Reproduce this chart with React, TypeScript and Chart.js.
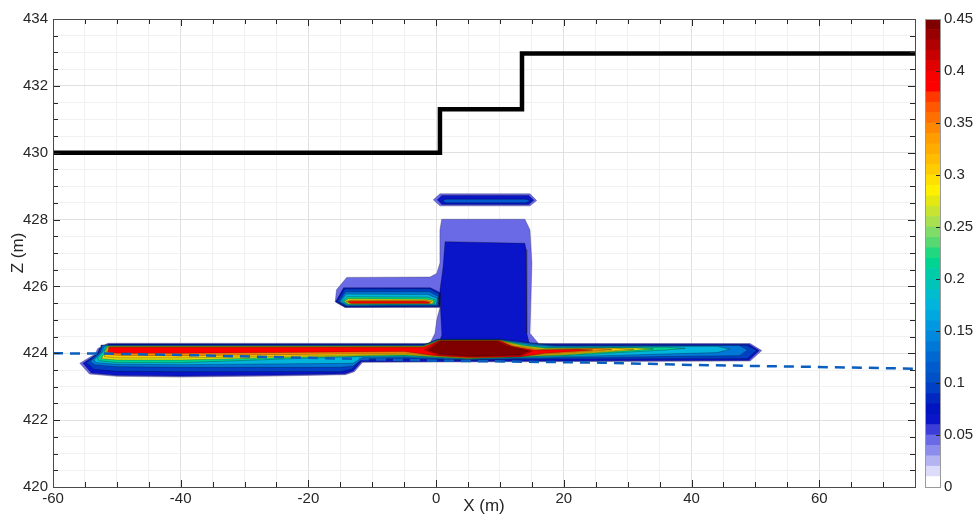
import React, { useEffect, useRef } from "react";
import { Chart, registerables } from "chart.js";

Chart.register(...registerables);

const FONT = "'Liberation Sans', Arial, Helvetica, sans-serif";
const TEXT = "#262626";

// ---- axes ----
const xMin = -60;
const xMax = 75;
const zMin = 420;
const zMax = 434;
const xTickLabels = [-60, -40, -20, 0, 20, 40, 60];
const zTickLabels = [420, 422, 424, 426, 428, 430, 432, 434];

// ---- ground surface (black step line) ----
const groundX = [-60, 0.6, 0.6, 13.45, 13.45, 75];
const groundZ = [430, 430, 431.3, 431.3, 432.97, 432.97];

// ---- water table (dashed blue) ----
const waterX = [-60, -52, -40, -10, 0, 25.7, 40, 57, 75];
const waterZ = [424.0, 423.99, 423.95, 423.82, 423.78, 423.72, 423.65, 423.6, 423.54];

// ---- colour scale (colorbar bands, 0.01 wide, 0 .. 0.45) ----
const levelStep = 0.01;
const colorbarColors = [
  "#ffffff", "#dcdcfa", "#b4b4f2", "#8c8cec", "#6a6ae6", "#3c3cd8", "#0a14c8", "#0014c0",
  "#0028c0", "#0040c4", "#0050c8", "#005ccc", "#0068d0", "#0078d8", "#0088dc", "#0098e0",
  "#00a8e0", "#00b4dc", "#00bccc", "#00c4b8", "#00cca8", "#00d490", "#20d880", "#58d870",
  "#80dc68", "#a8e050", "#c8e430", "#e4e810", "#fff000", "#ffe000", "#ffcc00", "#ffbc00",
  "#ffac00", "#ff9c00", "#ff8800", "#ff7000", "#ff5800", "#ff3800", "#ff0000", "#f80000",
  "#e00000", "#c80000", "#b00000", "#980000", "#800000",
];
const colorbarTickLabels = ["0", "0.05", "0.1", "0.15", "0.2", "0.25", "0.3", "0.35", "0.4", "0.45"];

// ---- contour polygons [x, z] ----
const columnHalo = [
  [-0.96, 424.3], [-0.17, 424.6], [0.1, 425.0], [0.6, 425.37], [-14.3, 425.37], [-15.8, 425.54],
  [-15.6, 425.9], [-14.0, 426.27], [-0.96, 426.28], [0.1, 426.39], [0.6, 426.7], [0.6, 427.69],
  [0.88, 428.01], [13.9, 428.01], [14.7, 427.69], [15.0, 426.7], [14.7, 424.6], [16.0, 424.3],
];
const columnCore = [
  [0.4, 424.3], [0.9, 424.55], [0.7, 425.3], [0.6, 425.9], [0.9, 426.3], [1.1, 426.6],
  [1.4, 427.34], [13.9, 427.29], [14.1, 427.1], [14.2, 424.6], [14.6, 424.3],
];
const topLensOuter = [[-0.44, 428.59], [0.6, 428.77], [14.7, 428.77], [15.75, 428.57], [14.7, 428.41], [0.6, 428.41]];
const topLensCore = [[0.2, 428.59], [0.9, 428.72], [14.5, 428.72], [15.3, 428.58], [14.5, 428.45], [0.9, 428.45]];
const topLensStreak = [[1.0, 428.56], [1.5, 428.61], [14.0, 428.61], [14.8, 428.56], [14.0, 428.5], [1.5, 428.5]];

const armB = [[-15.75, 425.54], [-14.5, 425.96], [-0.9, 425.96], [0.6, 425.82], [0.6, 425.39], [-14.2, 425.38]];
const armC = [[-15.5, 425.54], [-14.3, 425.93], [-1.0, 425.93], [0.5, 425.78], [0.5, 425.41], [-14.1, 425.4]];
const armD = [[-15.2, 425.54], [-14.2, 425.84], [-1.1, 425.84], [0.4, 425.7], [0.3, 425.43], [-14.0, 425.42]];
const armE = [[-15.0, 425.55], [-14.1, 425.77], [-1.3, 425.76], [0.2, 425.64], [0.0, 425.45], [-13.9, 425.44]];
const armF = [[-14.7, 425.56], [-13.9, 425.69], [-1.4, 425.68], [-0.1, 425.6], [-0.3, 425.47], [-13.8, 425.46]];
const armG = [[-14.4, 425.56], [-13.7, 425.63], [-1.5, 425.62], [-0.4, 425.57], [-0.6, 425.48], [-13.7, 425.47]];
const armI = [[-14.1, 425.555], [-13.5, 425.59], [-1.6, 425.585], [-0.7, 425.55], [-0.9, 425.49], [-13.5, 425.485]];
const armJ = [[-13.8, 425.54], [-13.3, 425.56], [-1.8, 425.555], [-1.0, 425.53], [-1.2, 425.5], [-13.3, 425.495]];

const lensA = [
  [-51.4, 424.3], [49.2, 424.29], [51.0, 424.08], [49.2, 423.77], [-11.5, 423.73], [-12.8, 423.45],
  [-14.2, 423.36], [-25, 423.32], [-40, 423.29], [-50, 423.31], [-54.3, 423.38], [-55.8, 423.7],
  [-53.4, 423.98], [-53.0, 424.14],
];
const lensB = [
  [-51.2, 424.28], [49.0, 424.27], [50.6, 424.08], [49.0, 423.79], [-11.7, 423.75], [-13.0, 423.47],
  [-14.3, 423.39], [-25, 423.35], [-40, 423.32], [-50, 423.34], [-54.0, 423.41], [-55.3, 423.7],
  [-53.1, 423.98], [-52.7, 424.14],
];
const lensC = [
  [-52.5, 424.25], [-2.0, 424.25], [0.2, 424.42], [10.0, 424.42], [16.5, 424.28], [19, 424.24],
  [48.7, 424.24], [50.2, 424.08], [48.7, 423.84], [20, 423.83], [5, 423.8], [-5, 423.83],
  [-11.8, 423.8], [-13.2, 423.52], [-15, 423.45], [-40, 423.45], [-50, 423.46], [-53.6, 423.52],
  [-54.8, 423.72], [-52.9, 424.0], [-52.6, 424.15],
];
const lensD = [
  [-52.2, 424.24], [-2.0, 424.24], [0.3, 424.41], [10.0, 424.41], [15.8, 424.27], [18.5, 424.22],
  [47.5, 424.23], [48.8, 424.1], [47.5, 423.93], [20, 423.87], [5, 423.815], [-5, 423.87],
  [-11.5, 423.84], [-13, 423.62], [-15, 423.58], [-40, 423.58], [-50, 423.6], [-53.4, 423.65],
  [-54.2, 423.75], [-52.6, 424.02],
];
const lensE = [
  [-51.9, 424.23], [-2.0, 424.23], [0.35, 424.4], [10.0, 424.4], [15.0, 424.25], [18, 424.2],
  [44, 424.21], [46, 424.12], [44, 424.02], [20, 423.9], [5, 423.825], [-5, 423.9],
  [-11.5, 423.88], [-13, 423.7], [-40, 423.66], [-50, 423.67], [-53.2, 423.72], [-53.6, 423.8],
  [-52.3, 424.04],
];
const lensF = [
  [-51.7, 424.22], [-2, 424.22], [0.4, 424.395], [10, 424.395], [14.2, 424.24], [17.5, 424.17],
  [36, 424.18], [39, 424.15], [36, 424.1], [20, 423.93], [5, 423.835], [-5, 423.93],
  [-11.5, 423.91], [-40, 423.72], [-50, 423.72], [-52.8, 423.78], [-53, 423.86], [-52, 424.06],
];
const lensG = [
  [-51.5, 424.21], [-2, 424.21], [0.45, 424.39], [10, 424.39], [13.5, 424.23], [17, 424.15],
  [31, 424.16], [34, 424.13], [31, 424.09], [20, 423.95], [5, 423.845], [-5, 423.95],
  [-11, 423.93], [-40, 423.8], [-50, 423.8], [-52.4, 423.84], [-51.8, 424.07],
];
const lensH = [
  [-51.4, 424.2], [-2, 424.2], [0.5, 424.385], [10, 424.385], [13, 424.22], [16.5, 424.13],
  [28, 424.15], [31, 424.12], [28, 424.08], [20, 423.97], [5, 423.85], [-5, 423.97],
  [-40, 423.86], [-50, 423.86], [-52, 423.9], [-51.6, 424.08],
];
const lensI = [
  [-51.3, 424.19], [-2, 424.19], [0.55, 424.38], [10, 424.38], [12.5, 424.21], [16, 424.11],
  [25, 424.14], [27.5, 424.11], [25, 424.07], [20, 424.0], [5, 423.86], [-5, 424.0],
  [-40, 423.93], [-50, 423.94], [-51.8, 423.97], [-51.4, 424.09],
];
const lensJ = [
  [-51.2, 424.18], [-2, 424.18], [0.6, 424.375], [10, 424.375], [12, 424.2], [15.5, 424.09],
  [22, 424.12], [24.5, 424.1], [22, 424.06], [17, 424.0], [13, 423.89], [5, 423.875],
  [0, 423.93], [-5, 424.05], [-20, 424.03], [-40, 424.0], [-50, 424.0], [-51.4, 424.03],
  [-51.3, 424.1],
];
const lensK = [[-1.8, 424.1], [0.4, 424.37], [9.7, 424.37], [11.6, 424.22], [15, 424.06], [13.2, 423.92], [5.3, 423.9], [0.4, 423.95]];
const lensL = [[-1.2, 424.1], [0.6, 424.35], [9.5, 424.35], [11.3, 424.2], [14.5, 424.07], [13.1, 423.95], [5.3, 423.92], [0.6, 423.98]];

// polygons in drawing order, with their colour band index
const regions: [number[][], number][] = [
  [columnHalo, 4], [lensA, 4], [topLensOuter, 4],
  [columnCore, 6], [lensB, 6], [topLensCore, 6], [topLensStreak, 11],
  [armB, 6], [armC, 9], [armD, 13], [armE, 17], [armF, 21], [armG, 27], [armI, 34], [armJ, 38],
  [lensC, 9], [lensD, 13], [lensE, 17], [lensF, 21], [lensG, 27], [lensH, 30],
  [lensI, 34], [lensJ, 38], [lensK, 41], [lensL, 44],
];

const isXLabel = (v: number) => xTickLabels.includes(v);
const isZLabel = (v: number) => zTickLabels.includes(v);

const axesBoxPlugin = {
  id: "axesBox",
  afterDraw(chart: any) {
    const { ctx, chartArea: a, scales } = chart;
    ctx.save();
    ctx.strokeStyle = TEXT;
    ctx.lineWidth = 1;
    const xs = scales.x;
    const ys = scales.y;
    ctx.beginPath();
    for (const t of xs.ticks) {
      const px = Math.round(xs.getPixelForValue(t.value)) + 0.5;
      const len = isXLabel(t.value) ? 7 : 5;
      ctx.moveTo(px, a.bottom);
      ctx.lineTo(px, a.bottom - len);
      ctx.moveTo(px, a.top);
      ctx.lineTo(px, a.top + len);
    }
    for (const t of ys.ticks) {
      const py = Math.round(ys.getPixelForValue(t.value)) + 0.5;
      const len = isZLabel(t.value) ? 7 : 5;
      ctx.moveTo(a.left, py);
      ctx.lineTo(a.left + len, py);
      ctx.moveTo(a.right, py);
      ctx.lineTo(a.right - len, py);
    }
    ctx.stroke();
    ctx.strokeStyle = "#4a4a4a";
    ctx.strokeRect(Math.round(a.left) + 0.5, Math.round(a.top) + 0.5, Math.round(a.right - a.left), Math.round(a.bottom - a.top));
    ctx.restore();
  },
};

const colorbarBoxPlugin = {
  id: "colorbarBox",
  afterDraw(chart: any) {
    const { ctx, chartArea: a, scales } = chart;
    ctx.save();
    ctx.strokeStyle = TEXT;
    ctx.lineWidth = 1;
    ctx.beginPath();
    for (const t of scales.y.ticks) {
      const py = Math.round(scales.y.getPixelForValue(t.value)) + 0.5;
      ctx.moveTo(a.right, py);
      ctx.lineTo(a.right - 4, py);
    }
    ctx.stroke();
    ctx.strokeStyle = "#9a9a9a";
    ctx.strokeRect(Math.round(a.left) + 0.5, Math.round(a.top) + 0.5, Math.round(a.right - a.left), Math.round(a.bottom - a.top));
    ctx.restore();
  },
};

export default function App() {
  const mainRef = useRef<HTMLCanvasElement>(null);
  const cbRef = useRef<HTMLCanvasElement>(null);

  useEffect(() => {
    const polyDatasets = regions.map(([pts, band]) => ({
      data: [...pts, pts[0]].map(([x, y]) => ({ x, y })),
      backgroundColor: colorbarColors[band],
      borderColor: band <= 4 ? "rgba(40,40,90,0.6)" : "rgba(0,0,0,0.45)",
      borderWidth: 0.6,
      fill: "shape",
      pointRadius: 0,
      tension: 0,
    }));
    const groundDs = {
      data: groundX.map((x, i) => ({ x, y: groundZ[i] })),
      borderColor: "#000000",
      borderWidth: 4.5,
      fill: false,
      pointRadius: 0,
      tension: 0,
    };
    const waterDs = {
      data: waterX.map((x, i) => ({ x, y: waterZ[i] })),
      borderColor: "#0a5fbe",
      borderWidth: 2.5,
      borderDash: [10, 7],
      fill: false,
      pointRadius: 0,
      tension: 0,
    };
    const datasets: any[] = [waterDs, groundDs, ...polyDatasets.slice().reverse()];

    const main = new Chart(mainRef.current!, {
      type: "line",
      data: { datasets },
      options: {
        responsive: false,
        animation: false,
        events: [],
        layout: { padding: { left: 0, top: 19, right: 61, bottom: 0 } },
        plugins: { legend: { display: false }, tooltip: { enabled: false } },
        scales: {
          x: {
            type: "linear",
            min: xMin,
            max: xMax,
            border: { display: false },
            grid: {
              drawTicks: false,
              color: (c: any) => (c.tick && isXLabel(c.tick.value) ? "#e0e0e0" : "#f1f1f1"),
            },
            ticks: {
              stepSize: 5,
              autoSkip: false,
              maxRotation: 0,
              padding: 3,
              color: TEXT,
              font: { family: FONT, size: 15 },
              callback: (v: any) => (isXLabel(v) ? String(v) : ""),
            },
            title: {
              display: true,
              text: "X (m)",
              color: TEXT,
              font: { family: FONT, size: 17 },
              padding: { top: 0, bottom: 0 },
            },
            afterFit: (s: any) => {
              s.height = 30;
            },
          },
          y: {
            type: "linear",
            min: zMin,
            max: zMax,
            border: { display: false },
            grid: {
              drawTicks: false,
              color: (c: any) => (c.tick && isZLabel(c.tick.value) ? "#e0e0e0" : "#f1f1f1"),
            },
            ticks: {
              stepSize: 0.5,
              autoSkip: false,
              padding: 5,
              color: TEXT,
              font: { family: FONT, size: 15 },
              callback: (v: any) => (isZLabel(v) ? String(v) : ""),
            },
            title: {
              display: true,
              text: "Z (m)",
              color: TEXT,
              font: { family: FONT, size: 17 },
              padding: { top: 8, bottom: 0 },
            },
            afterFit: (s: any) => {
              s.width = 53;
            },
          },
        },
      },
      plugins: [axesBoxPlugin],
    } as any);

    const cb = new Chart(cbRef.current!, {
      type: "bar",
      data: {
        labels: [""],
        datasets: colorbarColors.map((c) => ({
          data: [levelStep],
          backgroundColor: c,
          borderWidth: 0,
          barPercentage: 1,
          categoryPercentage: 1,
          stack: "cb",
        })),
      },
      options: {
        responsive: false,
        animation: false,
        events: [],
        layout: { padding: { left: 925, top: 19, right: 0, bottom: 30 } },
        plugins: { legend: { display: false }, tooltip: { enabled: false } },
        scales: {
          x: { display: false, stacked: true },
          y: {
            position: "right",
            stacked: true,
            min: 0,
            max: 0.45,
            border: { display: false },
            grid: { display: false, drawTicks: false },
            ticks: {
              stepSize: 0.05,
              padding: 4,
              color: TEXT,
              font: { family: FONT, size: 15 },
              callback: (v: any) => colorbarTickLabels[Math.round(Number(v) / 0.05)] ?? "",
            },
            afterFit: (s: any) => {
              s.width = 36;
            },
          },
        },
      },
      plugins: [colorbarBoxPlugin],
    } as any);

    return () => {
      main.destroy();
      cb.destroy();
    };
  }, []);

  return (
    <div style={{ position: "fixed", left: 0, top: 0, width: 976, height: 517, background: "#ffffff" }}>
      <canvas
        ref={mainRef}
        width={976}
        height={517}
        style={{ position: "absolute", left: 0, top: 0, width: 976, height: 517 }}
      />
      <canvas
        ref={cbRef}
        width={976}
        height={517}
        style={{ position: "absolute", left: 0, top: 0, width: 976, height: 517, pointerEvents: "none" }}
      />
    </div>
  );
}
